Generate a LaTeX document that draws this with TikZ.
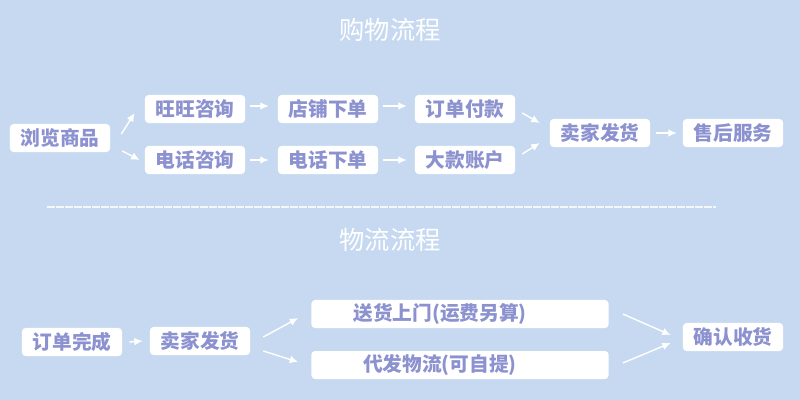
\documentclass[tikz,border=0pt]{standalone}
\usepackage{fontspec}
\setmainfont{Noto Sans CJK SC}
\usetikzlibrary{arrows.meta}
\definecolor{bgblue}{RGB}{198,217,241}
\definecolor{txtpurple}{RGB}{140,146,208}

\begin{document}
\begin{tikzpicture}[x=0.025cm, y=-0.025cm,
        box/.style={fill=white, rounded corners=2.5pt, minimum width=2.5cm, minimum height=0.7cm, inner sep=0pt, text=txtpurple, font=\fontsize{14}{14}\selectfont\bfseries},
        longbox/.style={box, minimum width=7.425cm},
        title/.style={text=white, font=\fontsize{18}{18}\selectfont},
        arr/.style={draw=white, line width=1pt, -{Latex[length=6pt,width=5.5pt]}}]
        \fill[bgblue] (0,0) rectangle (800,400);

        % shopping
        \node[title] (t1) at (390,30) {购物流程};
        \node[box] (b1) at (60,138) {浏览商品};
        \node[box] (b2) at (195,109) {旺旺咨询};
        \node[box] (b3) at (195,160) {电话咨询};
        \node[box] (b4) at (328,109) {店铺下单};
        \node[box] (b5) at (328,160) {电话下单};
        \node[box] (b6) at (465,109) {订单付款};
        \node[box] (b7) at (465,160) {大款账户};
        \node[box] (b8) at (600,133) {卖家发货};
        \node[box] (b9) at (733,133) {售后服务};

        \draw[arr] ([xshift=0.275cm,yshift=0.1cm]b1.east) -- ([xshift=-0.25cm,yshift=-0.1cm]b2.west);
        \draw[arr] ([xshift=0.3cm,yshift=-0.325cm]b1.east) -- ([xshift=-0.125cm]b3.west);
        \draw[arr] ([xshift=0.125cm,yshift=0.075cm]b2.east) -- ([xshift=-0.225cm,yshift=0.075cm]b4.west);
        \draw[arr] ([xshift=0.125cm]b3.east) -- ([xshift=-0.225cm]b5.west);
        \draw[arr] ([xshift=0.125cm,yshift=0.075cm]b4.east) -- ([xshift=-0.2cm,yshift=0.075cm]b6.west);
        \draw[arr] ([xshift=0.125cm]b5.east) -- ([xshift=-0.2cm]b7.west);
        \draw[arr] ([xshift=0.175cm,yshift=-0.1cm]b6.east) -- ([xshift=-0.25cm,yshift=0.25cm]b8.west);
        \draw[arr] ([xshift=0.175cm,yshift=0.15cm]b7.east) -- ([xshift=-0.25cm,yshift=-0.25cm]b8.west);
        \draw[arr] ([xshift=0.15cm]b8.east) -- ([xshift=-0.15cm]b9.west);

        \draw[white, opacity=0.8, line width=0.9pt, dash pattern=on 6pt off 0.4pt] (47,207) -- (716,207);

        % logistics
        \node[title] (t2) at (390,240) {物流流程};
        \node[box] (w1) at (72,342) {订单完成};
        \node[box] (w2) at (200,341) {卖家发货};
        \node[longbox] (w3) at (460,314) {\hspace*{-1cm}送货上门(运费另算)};
        \node[longbox] (w4) at (460,365) {\hspace*{-1cm}代发物流(可自提)};
        \node[box] (w5) at (733,337) {确认收货};

        \draw[arr] ([xshift=0.175cm]w1.east) -- ([xshift=-0.175cm]w2.west);
        \draw[arr] ([xshift=0.325cm,yshift=0.1cm]w2.east) -- ([xshift=-0.325cm,yshift=-0.1cm]w3.west);
        \draw[arr] ([xshift=0.325cm,yshift=-0.25cm]w2.east) -- ([xshift=-0.325cm,yshift=0.075cm]w4.west);
        \draw[arr] ([xshift=0.35cm]w3.east) -- ([xshift=-0.3cm,yshift=0.05cm]w5.west);
        \draw[arr] ([xshift=0.35cm,yshift=0.05cm]w4.east) -- ([xshift=-0.3cm,yshift=-0.15cm]w5.west);
    \end{tikzpicture}
\end{document}
